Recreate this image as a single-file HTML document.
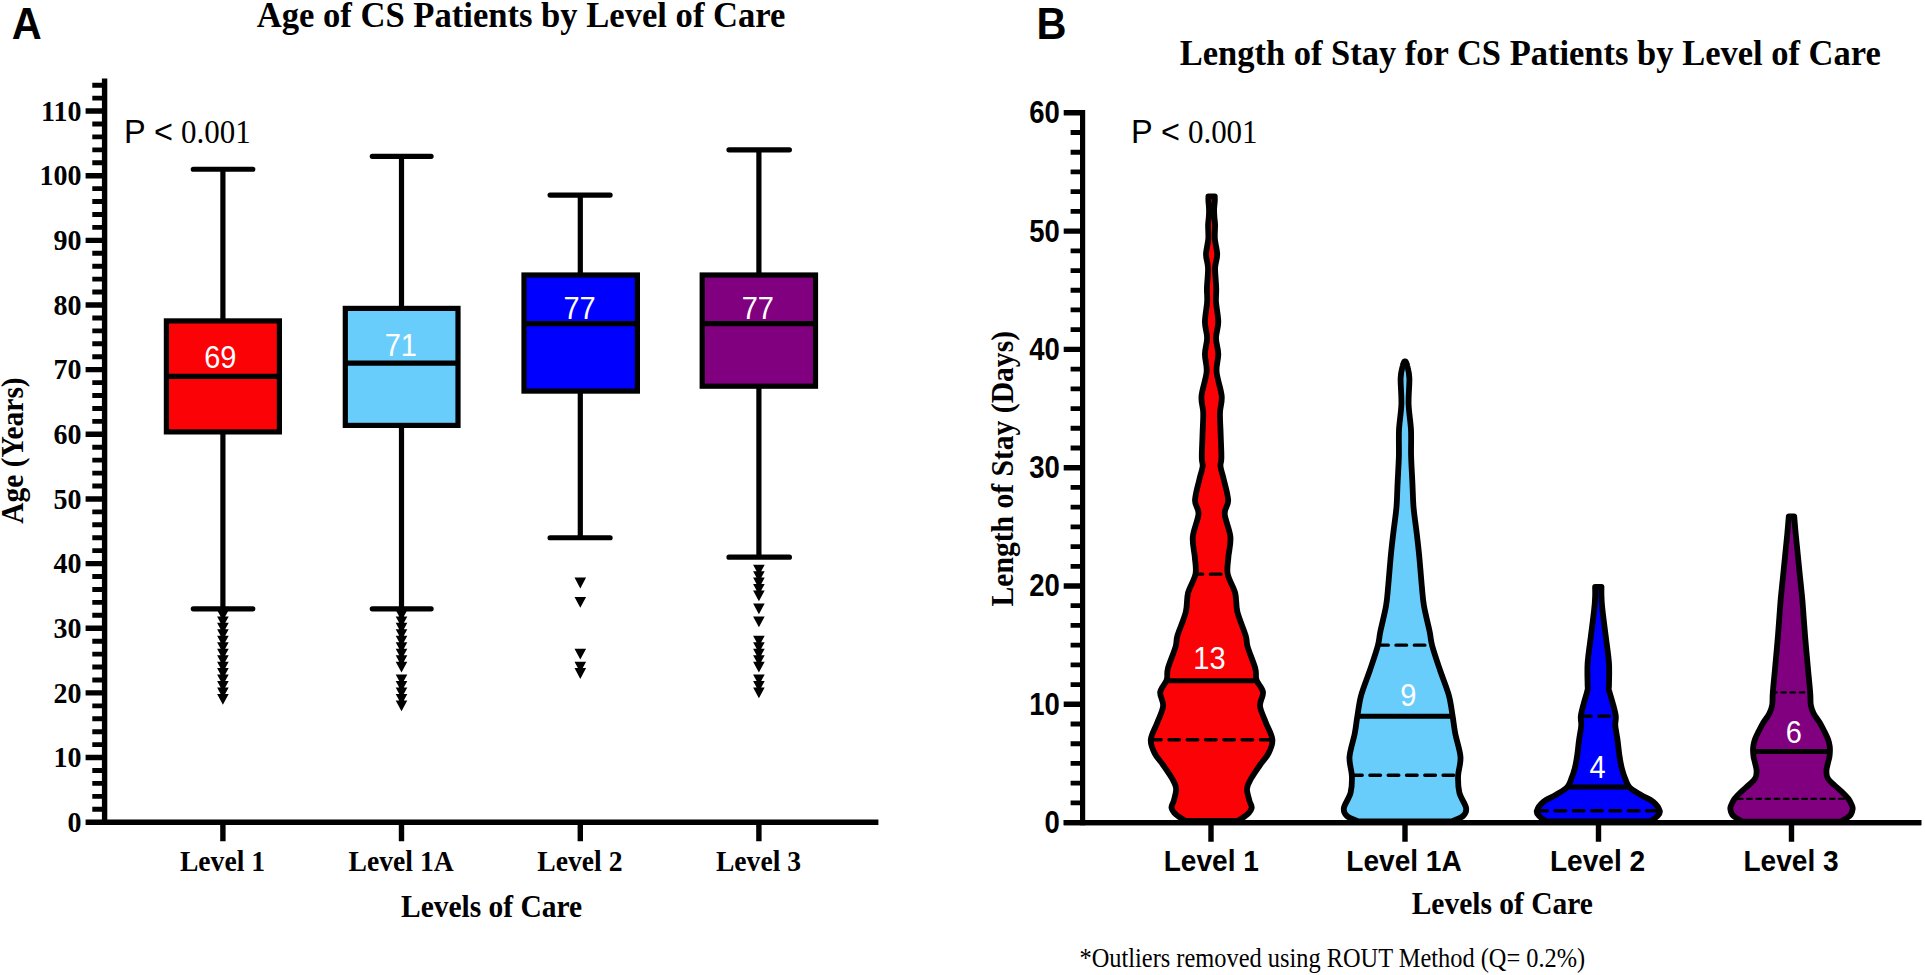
<!DOCTYPE html>
<html lang="en"><head><meta charset="utf-8"><title>Figure</title>
<style>html,body{margin:0;padding:0;background:#fff}svg{display:block}</style></head>
<body>
<svg width="1925" height="975" viewBox="0 0 1925 975">
<rect width="1925" height="975" fill="#fff"/>
<g id="panelA" stroke="#000" fill="none">
<path d="M104.6 78.4 V824.9000000000001" stroke-width="5.4"/>
<path d="M85.6 822.2 H878.4" stroke-width="5.4"/>
<path d="M85.6 757.55 H104.6 M85.6 692.90 H104.6 M85.6 628.25 H104.6 M85.6 563.60 H104.6 M85.6 498.95 H104.6 M85.6 434.30 H104.6 M85.6 369.65 H104.6 M85.6 305.00 H104.6 M85.6 240.35 H104.6 M85.6 175.70 H104.6 M85.6 111.05 H104.6 " stroke-width="5.4"/>
<path d="M92.3 809.27 H104.6 M92.3 796.34 H104.6 M92.3 783.41 H104.6 M92.3 770.48 H104.6 M92.3 744.62 H104.6 M92.3 731.69 H104.6 M92.3 718.76 H104.6 M92.3 705.83 H104.6 M92.3 679.97 H104.6 M92.3 667.04 H104.6 M92.3 654.11 H104.6 M92.3 641.18 H104.6 M92.3 615.32 H104.6 M92.3 602.39 H104.6 M92.3 589.46 H104.6 M92.3 576.53 H104.6 M92.3 550.67 H104.6 M92.3 537.74 H104.6 M92.3 524.81 H104.6 M92.3 511.88 H104.6 M92.3 486.02 H104.6 M92.3 473.09 H104.6 M92.3 460.16 H104.6 M92.3 447.23 H104.6 M92.3 421.37 H104.6 M92.3 408.44 H104.6 M92.3 395.51 H104.6 M92.3 382.58 H104.6 M92.3 356.72 H104.6 M92.3 343.79 H104.6 M92.3 330.86 H104.6 M92.3 317.93 H104.6 M92.3 292.07 H104.6 M92.3 279.14 H104.6 M92.3 266.21 H104.6 M92.3 253.28 H104.6 M92.3 227.42 H104.6 M92.3 214.49 H104.6 M92.3 201.56 H104.6 M92.3 188.63 H104.6 M92.3 162.77 H104.6 M92.3 149.84 H104.6 M92.3 136.91 H104.6 M92.3 123.98 H104.6 M92.3 98.12 H104.6 M92.3 85.19 H104.6 " stroke-width="4.9"/>
<path d="M222.9 822.2 V841.2 M401.5 822.2 V841.2 M580.3 822.2 V841.2 M758.9 822.2 V841.2 " stroke-width="5.4"/>
</g>
<g stroke="#000" stroke-width="5.2" fill="none">
<path d="M222.9 169.24 V608.86"/>
<path d="M193.3 169.24 H252.8 M193.3 608.86 H252.8" stroke-linecap="round"/>
<rect x="166.40" y="320.90" width="113.00" height="111.00" fill="#fb0207"/>
<path d="M166.40 376.30 H279.40"/>
</g>
<g stroke="#000" stroke-width="5.2" fill="none">
<path d="M401.5 156.31 V608.86"/>
<path d="M372.3 156.31 H431.1 M372.3 608.86 H431.1" stroke-linecap="round"/>
<rect x="345.30" y="308.40" width="112.70" height="117.00" fill="#69cdfc"/>
<path d="M345.30 363.20 H458.00"/>
</g>
<g stroke="#000" stroke-width="5.2" fill="none">
<path d="M580.3 195.10 V537.74"/>
<path d="M550.1 195.10 H610.1 M550.1 537.74 H610.1" stroke-linecap="round"/>
<rect x="524.00" y="275.00" width="113.40" height="116.10" fill="#0000fe"/>
<path d="M524.00 323.60 H637.40"/>
</g>
<g stroke="#000" stroke-width="5.2" fill="none">
<path d="M758.9 149.84 V557.13"/>
<path d="M729.0 149.84 H789.4 M729.0 557.13 H789.4" stroke-linecap="round"/>
<rect x="702.20" y="275.00" width="113.30" height="111.20" fill="#800080"/>
<path d="M702.20 323.60 H815.50"/>
</g>
<path d="M217.10 693.97H228.70L222.90 704.76ZM217.10 687.50H228.70L222.90 698.30ZM217.10 681.04H228.70L222.90 691.84ZM217.10 674.57H228.70L222.90 685.37ZM217.10 668.11H228.70L222.90 678.91ZM217.10 661.64H228.70L222.90 672.44ZM217.10 655.18H228.70L222.90 665.98ZM217.10 648.71H228.70L222.90 659.51ZM217.10 642.25H228.70L222.90 653.04ZM217.10 635.78H228.70L222.90 646.58ZM217.10 629.32H228.70L222.90 640.12ZM217.10 622.85H228.70L222.90 633.65ZM217.10 616.39H228.70L222.90 627.19ZM217.10 609.92H228.70L222.90 620.72ZM395.70 661.64H407.30L401.50 672.44ZM395.70 655.18H407.30L401.50 665.98ZM395.70 648.71H407.30L401.50 659.51ZM395.70 642.25H407.30L401.50 653.04ZM395.70 635.78H407.30L401.50 646.58ZM395.70 629.32H407.30L401.50 640.12ZM395.70 622.85H407.30L401.50 633.65ZM395.70 616.39H407.30L401.50 627.19ZM395.70 609.92H407.30L401.50 620.72ZM395.70 700.43H407.30L401.50 711.23ZM395.70 693.97H407.30L401.50 704.76ZM395.70 687.50H407.30L401.50 698.30ZM395.70 681.04H407.30L401.50 691.84ZM395.70 674.57H407.30L401.50 685.37ZM574.50 577.60H586.10L580.30 588.40ZM574.50 596.99H586.10L580.30 607.79ZM574.50 648.71H586.10L580.30 659.51ZM574.50 661.64H586.10L580.30 672.44ZM574.50 668.11H586.10L580.30 678.91ZM753.10 564.67H764.70L758.90 575.47ZM753.10 571.13H764.70L758.90 581.93ZM753.10 577.60H764.70L758.90 588.40ZM753.10 584.06H764.70L758.90 594.86ZM753.10 590.53H764.70L758.90 601.33ZM753.10 603.46H764.70L758.90 614.25ZM753.10 616.39H764.70L758.90 627.19ZM753.10 635.78H764.70L758.90 646.58ZM753.10 642.25H764.70L758.90 653.04ZM753.10 648.71H764.70L758.90 659.51ZM753.10 655.18H764.70L758.90 665.98ZM753.10 661.64H764.70L758.90 672.44ZM753.10 674.57H764.70L758.90 685.37ZM753.10 681.04H764.70L758.90 691.84ZM753.10 687.50H764.70L758.90 698.30Z" fill="#000"/>
<text transform="translate(11.8 38.7) scale(1 1.068)" font-family='"Liberation Sans", Arial, Helvetica, sans-serif' font-size="41.5" font-weight="bold">A</text>
<text transform="translate(521.1 26.9) scale(1 1.06)" font-family='"Liberation Serif", "Times New Roman", Times, serif' font-size="34.6" font-weight="bold" text-anchor="middle" fill="#000" >Age of CS Patients by Level of Care</text>
<text transform="translate(81.4 831.8000000000001) scale(1 1.06)" font-family='"Liberation Serif", "Times New Roman", Times, serif' font-size="28" font-weight="bold" text-anchor="end" fill="#000" >0</text>
<text transform="translate(81.4 767.1500000000001) scale(1 1.06)" font-family='"Liberation Serif", "Times New Roman", Times, serif' font-size="28" font-weight="bold" text-anchor="end" fill="#000" >10</text>
<text transform="translate(81.4 702.5000000000001) scale(1 1.06)" font-family='"Liberation Serif", "Times New Roman", Times, serif' font-size="28" font-weight="bold" text-anchor="end" fill="#000" >20</text>
<text transform="translate(81.4 637.85) scale(1 1.06)" font-family='"Liberation Serif", "Times New Roman", Times, serif' font-size="28" font-weight="bold" text-anchor="end" fill="#000" >30</text>
<text transform="translate(81.4 573.2) scale(1 1.06)" font-family='"Liberation Serif", "Times New Roman", Times, serif' font-size="28" font-weight="bold" text-anchor="end" fill="#000" >40</text>
<text transform="translate(81.4 508.55000000000007) scale(1 1.06)" font-family='"Liberation Serif", "Times New Roman", Times, serif' font-size="28" font-weight="bold" text-anchor="end" fill="#000" >50</text>
<text transform="translate(81.4 443.9000000000001) scale(1 1.06)" font-family='"Liberation Serif", "Times New Roman", Times, serif' font-size="28" font-weight="bold" text-anchor="end" fill="#000" >60</text>
<text transform="translate(81.4 379.25000000000006) scale(1 1.06)" font-family='"Liberation Serif", "Times New Roman", Times, serif' font-size="28" font-weight="bold" text-anchor="end" fill="#000" >70</text>
<text transform="translate(81.4 314.6) scale(1 1.06)" font-family='"Liberation Serif", "Times New Roman", Times, serif' font-size="28" font-weight="bold" text-anchor="end" fill="#000" >80</text>
<text transform="translate(81.4 249.95000000000002) scale(1 1.06)" font-family='"Liberation Serif", "Times New Roman", Times, serif' font-size="28" font-weight="bold" text-anchor="end" fill="#000" >90</text>
<text transform="translate(81.4 185.30000000000004) scale(1 1.06)" font-family='"Liberation Serif", "Times New Roman", Times, serif' font-size="28" font-weight="bold" text-anchor="end" fill="#000" >100</text>
<text transform="translate(81.4 120.65000000000006) scale(1 1.06)" font-family='"Liberation Serif", "Times New Roman", Times, serif' font-size="28" font-weight="bold" text-anchor="end" fill="#000" >110</text>
<text transform="translate(222.5 870.7) scale(1 1.06)" font-family='"Liberation Serif", "Times New Roman", Times, serif' font-size="27.6" font-weight="bold" text-anchor="middle" fill="#000" >Level 1</text>
<text transform="translate(401.1 870.7) scale(1 1.06)" font-family='"Liberation Serif", "Times New Roman", Times, serif' font-size="27.6" font-weight="bold" text-anchor="middle" fill="#000" >Level 1A</text>
<text transform="translate(579.9 870.7) scale(1 1.06)" font-family='"Liberation Serif", "Times New Roman", Times, serif' font-size="27.6" font-weight="bold" text-anchor="middle" fill="#000" >Level 2</text>
<text transform="translate(758.5 870.7) scale(1 1.06)" font-family='"Liberation Serif", "Times New Roman", Times, serif' font-size="27.6" font-weight="bold" text-anchor="middle" fill="#000" >Level 3</text>
<text transform="translate(491.6 916.5) scale(1 1.06)" font-family='"Liberation Serif", "Times New Roman", Times, serif' font-size="29.5" font-weight="bold" text-anchor="middle" fill="#000" >Levels of Care</text>
<text transform="translate(22.5 450.5) rotate(-90) scale(1 1.06)" font-family='"Liberation Serif", "Times New Roman", Times, serif' font-size="29.45" font-weight="bold" text-anchor="middle">Age (Years)</text>
<text transform="translate(124.0 143.4) scale(1 1.045)" font-family='"Liberation Sans", Arial, Helvetica, sans-serif' font-size="32.5">P &lt;</text>
<text transform="translate(181.0 143.4) scale(0.914 1.005)" font-family='"Liberation Serif", "Times New Roman", Times, serif' font-size="33.9">0.001</text>
<text transform="translate(220.3 367.5) scale(1 1.07)" font-family='"Liberation Sans", Arial, Helvetica, sans-serif' font-size="29" text-anchor="middle" fill="#fff">69</text>
<text transform="translate(400.8 356) scale(1 1.07)" font-family='"Liberation Sans", Arial, Helvetica, sans-serif' font-size="29" text-anchor="middle" fill="#fff">71</text>
<text transform="translate(579.6 319.4) scale(1 1.07)" font-family='"Liberation Sans", Arial, Helvetica, sans-serif' font-size="29" text-anchor="middle" fill="#fff">77</text>
<text transform="translate(757.8 319.4) scale(1 1.07)" font-family='"Liberation Sans", Arial, Helvetica, sans-serif' font-size="29" text-anchor="middle" fill="#fff">77</text>
<g id="panelB" stroke="#000" fill="none">
<path d="M1082.6 110.10 V825.3000000000001" stroke-width="5.2"/>
<path d="M1063.7 822.6 H1921.3" stroke-width="5.4"/>
<path d="M1063.7 704.30 H1082.6 M1063.7 586.00 H1082.6 M1063.7 467.70 H1082.6 M1063.7 349.40 H1082.6 M1063.7 231.10 H1082.6 M1063.7 112.80 H1082.6 " stroke-width="5.4"/>
<path d="M1070.6 802.88 H1082.6 M1070.6 783.17 H1082.6 M1070.6 763.45 H1082.6 M1070.6 743.73 H1082.6 M1070.6 724.02 H1082.6 M1070.6 684.58 H1082.6 M1070.6 664.87 H1082.6 M1070.6 645.15 H1082.6 M1070.6 625.43 H1082.6 M1070.6 605.72 H1082.6 M1070.6 566.28 H1082.6 M1070.6 546.57 H1082.6 M1070.6 526.85 H1082.6 M1070.6 507.13 H1082.6 M1070.6 487.42 H1082.6 M1070.6 447.98 H1082.6 M1070.6 428.27 H1082.6 M1070.6 408.55 H1082.6 M1070.6 388.83 H1082.6 M1070.6 369.12 H1082.6 M1070.6 329.68 H1082.6 M1070.6 309.97 H1082.6 M1070.6 290.25 H1082.6 M1070.6 270.53 H1082.6 M1070.6 250.82 H1082.6 M1070.6 211.38 H1082.6 M1070.6 191.67 H1082.6 M1070.6 171.95 H1082.6 M1070.6 152.23 H1082.6 M1070.6 132.52 H1082.6 " stroke-width="4.8"/>
<path d="M1211.0 822.6 V841.8 M1405.0 822.6 V841.8 M1598.5 822.6 V841.8 M1791.5 822.6 V841.8 " stroke-width="5.4"/>
</g>
<clipPath id="vc1"><path d="M1214.8 196.4C1214.8 197.2 1214.9 198.9 1214.8 201.0C1214.7 203.1 1214.2 206.3 1214.1 209.0C1214.1 211.7 1214.2 214.3 1214.4 217.0C1214.6 219.7 1215.0 221.3 1215.1 225.0C1215.2 228.7 1214.5 234.1 1214.9 239.0C1215.2 243.9 1217.2 249.7 1217.2 254.5C1217.2 259.3 1215.3 262.4 1215.1 268.0C1215.0 273.6 1216.1 282.3 1216.2 288.0C1216.4 293.7 1215.7 296.3 1216.0 302.0C1216.4 307.7 1218.3 316.0 1218.3 322.0C1218.3 328.0 1216.0 332.7 1216.0 338.0C1216.0 343.3 1218.2 348.3 1218.3 354.0C1218.4 359.7 1216.0 365.0 1216.6 372.0C1217.2 379.0 1221.1 389.2 1221.7 396.0C1222.3 402.8 1220.2 406.1 1220.0 412.6C1219.8 419.1 1220.5 427.5 1220.7 435.0C1220.9 442.5 1221.5 452.4 1221.4 457.7C1221.4 463.0 1220.1 463.0 1220.5 466.7C1221.0 470.4 1222.7 474.4 1223.9 480.0C1225.2 485.6 1228.1 494.9 1228.2 500.6C1228.3 506.3 1224.3 508.0 1224.7 514.0C1225.1 520.0 1229.8 529.5 1230.4 536.7C1231.1 543.9 1228.9 550.8 1228.4 557.0C1228.0 563.2 1226.6 568.0 1227.7 574.0C1228.8 580.0 1233.6 586.7 1235.2 593.0C1236.8 599.3 1235.7 604.9 1237.4 612.0C1239.2 619.1 1243.9 629.6 1245.6 635.4C1247.4 641.2 1246.1 641.5 1247.7 647.0C1249.3 652.5 1253.8 662.9 1255.3 668.4C1256.8 673.9 1255.2 676.1 1256.5 680.0C1257.8 683.9 1262.4 687.7 1263.0 692.0C1263.6 696.3 1259.6 700.9 1260.0 706.0C1260.5 711.1 1263.9 717.1 1265.9 722.7C1268.0 728.3 1272.0 734.6 1272.4 739.7C1272.8 744.8 1270.6 749.2 1268.5 753.4C1266.4 757.6 1263.0 760.7 1260.0 765.0C1257.1 769.3 1252.8 775.4 1250.6 779.4C1248.4 783.4 1247.2 785.3 1247.0 788.8C1246.8 792.3 1248.6 797.5 1249.4 800.6C1250.2 803.8 1252.1 805.4 1251.7 807.7C1251.3 810.1 1249.4 812.5 1247.0 814.7C1244.7 816.9 1239.2 820.0 1237.6 821.0L1185.6 821.0C1184.0 820.0 1178.5 816.9 1176.1 814.7C1173.8 812.5 1171.9 810.1 1171.5 807.7C1171.1 805.4 1173.0 803.8 1173.8 800.6C1174.6 797.5 1176.3 792.3 1176.1 788.8C1175.9 785.3 1174.8 783.4 1172.6 779.4C1170.4 775.4 1166.1 769.3 1163.1 765.0C1160.2 760.7 1156.8 757.6 1154.7 753.4C1152.6 749.2 1150.4 744.8 1150.8 739.7C1151.2 734.6 1155.2 728.3 1157.2 722.7C1159.3 717.1 1162.7 711.1 1163.1 706.0C1163.6 700.9 1159.6 696.3 1160.2 692.0C1160.8 687.7 1165.4 683.9 1166.7 680.0C1168.0 676.1 1166.4 673.9 1167.9 668.4C1169.4 662.9 1173.9 652.5 1175.5 647.0C1177.1 641.5 1175.8 641.2 1177.5 635.4C1179.3 629.6 1184.0 619.1 1185.8 612.0C1187.5 604.9 1186.4 599.3 1188.0 593.0C1189.6 586.7 1194.4 580.0 1195.5 574.0C1196.6 568.0 1195.2 563.2 1194.8 557.0C1194.3 550.8 1192.1 543.9 1192.8 536.7C1193.4 529.5 1198.1 520.0 1198.5 514.0C1198.9 508.0 1194.9 506.3 1195.0 500.6C1195.1 494.9 1198.0 485.6 1199.2 480.0C1200.5 474.4 1202.2 470.4 1202.6 466.7C1203.1 463.0 1201.8 463.0 1201.8 457.7C1201.7 452.4 1202.3 442.5 1202.5 435.0C1202.7 427.5 1203.4 419.1 1203.2 412.6C1203.0 406.1 1200.9 402.8 1201.5 396.0C1202.1 389.2 1206.0 379.0 1206.6 372.0C1207.2 365.0 1204.8 359.7 1204.9 354.0C1205.0 348.3 1207.1 343.3 1207.1 338.0C1207.1 332.7 1204.9 328.0 1204.9 322.0C1204.9 316.0 1206.8 307.7 1207.1 302.0C1207.5 296.3 1206.8 293.7 1206.9 288.0C1207.1 282.3 1208.2 273.6 1208.0 268.0C1207.9 262.4 1206.0 259.3 1206.0 254.5C1206.0 249.7 1208.0 243.9 1208.3 239.0C1208.6 234.1 1208.0 228.7 1208.1 225.0C1208.2 221.3 1208.6 219.7 1208.8 217.0C1209.0 214.3 1209.1 211.7 1209.0 209.0C1209.0 206.3 1208.5 203.1 1208.4 201.0C1208.3 198.9 1208.4 197.2 1208.4 196.4Z"/></clipPath>
<path d="M1214.8 196.4C1214.8 197.2 1214.9 198.9 1214.8 201.0C1214.7 203.1 1214.2 206.3 1214.1 209.0C1214.1 211.7 1214.2 214.3 1214.4 217.0C1214.6 219.7 1215.0 221.3 1215.1 225.0C1215.2 228.7 1214.5 234.1 1214.9 239.0C1215.2 243.9 1217.2 249.7 1217.2 254.5C1217.2 259.3 1215.3 262.4 1215.1 268.0C1215.0 273.6 1216.1 282.3 1216.2 288.0C1216.4 293.7 1215.7 296.3 1216.0 302.0C1216.4 307.7 1218.3 316.0 1218.3 322.0C1218.3 328.0 1216.0 332.7 1216.0 338.0C1216.0 343.3 1218.2 348.3 1218.3 354.0C1218.4 359.7 1216.0 365.0 1216.6 372.0C1217.2 379.0 1221.1 389.2 1221.7 396.0C1222.3 402.8 1220.2 406.1 1220.0 412.6C1219.8 419.1 1220.5 427.5 1220.7 435.0C1220.9 442.5 1221.5 452.4 1221.4 457.7C1221.4 463.0 1220.1 463.0 1220.5 466.7C1221.0 470.4 1222.7 474.4 1223.9 480.0C1225.2 485.6 1228.1 494.9 1228.2 500.6C1228.3 506.3 1224.3 508.0 1224.7 514.0C1225.1 520.0 1229.8 529.5 1230.4 536.7C1231.1 543.9 1228.9 550.8 1228.4 557.0C1228.0 563.2 1226.6 568.0 1227.7 574.0C1228.8 580.0 1233.6 586.7 1235.2 593.0C1236.8 599.3 1235.7 604.9 1237.4 612.0C1239.2 619.1 1243.9 629.6 1245.6 635.4C1247.4 641.2 1246.1 641.5 1247.7 647.0C1249.3 652.5 1253.8 662.9 1255.3 668.4C1256.8 673.9 1255.2 676.1 1256.5 680.0C1257.8 683.9 1262.4 687.7 1263.0 692.0C1263.6 696.3 1259.6 700.9 1260.0 706.0C1260.5 711.1 1263.9 717.1 1265.9 722.7C1268.0 728.3 1272.0 734.6 1272.4 739.7C1272.8 744.8 1270.6 749.2 1268.5 753.4C1266.4 757.6 1263.0 760.7 1260.0 765.0C1257.1 769.3 1252.8 775.4 1250.6 779.4C1248.4 783.4 1247.2 785.3 1247.0 788.8C1246.8 792.3 1248.6 797.5 1249.4 800.6C1250.2 803.8 1252.1 805.4 1251.7 807.7C1251.3 810.1 1249.4 812.5 1247.0 814.7C1244.7 816.9 1239.2 820.0 1237.6 821.0L1185.6 821.0C1184.0 820.0 1178.5 816.9 1176.1 814.7C1173.8 812.5 1171.9 810.1 1171.5 807.7C1171.1 805.4 1173.0 803.8 1173.8 800.6C1174.6 797.5 1176.3 792.3 1176.1 788.8C1175.9 785.3 1174.8 783.4 1172.6 779.4C1170.4 775.4 1166.1 769.3 1163.1 765.0C1160.2 760.7 1156.8 757.6 1154.7 753.4C1152.6 749.2 1150.4 744.8 1150.8 739.7C1151.2 734.6 1155.2 728.3 1157.2 722.7C1159.3 717.1 1162.7 711.1 1163.1 706.0C1163.6 700.9 1159.6 696.3 1160.2 692.0C1160.8 687.7 1165.4 683.9 1166.7 680.0C1168.0 676.1 1166.4 673.9 1167.9 668.4C1169.4 662.9 1173.9 652.5 1175.5 647.0C1177.1 641.5 1175.8 641.2 1177.5 635.4C1179.3 629.6 1184.0 619.1 1185.8 612.0C1187.5 604.9 1186.4 599.3 1188.0 593.0C1189.6 586.7 1194.4 580.0 1195.5 574.0C1196.6 568.0 1195.2 563.2 1194.8 557.0C1194.3 550.8 1192.1 543.9 1192.8 536.7C1193.4 529.5 1198.1 520.0 1198.5 514.0C1198.9 508.0 1194.9 506.3 1195.0 500.6C1195.1 494.9 1198.0 485.6 1199.2 480.0C1200.5 474.4 1202.2 470.4 1202.6 466.7C1203.1 463.0 1201.8 463.0 1201.8 457.7C1201.7 452.4 1202.3 442.5 1202.5 435.0C1202.7 427.5 1203.4 419.1 1203.2 412.6C1203.0 406.1 1200.9 402.8 1201.5 396.0C1202.1 389.2 1206.0 379.0 1206.6 372.0C1207.2 365.0 1204.8 359.7 1204.9 354.0C1205.0 348.3 1207.1 343.3 1207.1 338.0C1207.1 332.7 1204.9 328.0 1204.9 322.0C1204.9 316.0 1206.8 307.7 1207.1 302.0C1207.5 296.3 1206.8 293.7 1206.9 288.0C1207.1 282.3 1208.2 273.6 1208.0 268.0C1207.9 262.4 1206.0 259.3 1206.0 254.5C1206.0 249.7 1208.0 243.9 1208.3 239.0C1208.6 234.1 1208.0 228.7 1208.1 225.0C1208.2 221.3 1208.6 219.7 1208.8 217.0C1209.0 214.3 1209.1 211.7 1209.0 209.0C1209.0 206.3 1208.5 203.1 1208.4 201.0C1208.3 198.9 1208.4 197.2 1208.4 196.4Z" fill="#fb0207" stroke="#000" stroke-width="5.8" stroke-linejoin="round"/>
<path d="M1192.1 574.17 H1230.7" stroke="#000" stroke-width="3.4" stroke-linecap="round" stroke-dasharray="10.6 7.7" clip-path="url(#vc1)"/>
<path d="M1165.5 680.64 H1257.7" stroke="#000" stroke-width="5" clip-path="url(#vc1)"/>
<path d="M1150.6 739.79 H1275.3" stroke="#000" stroke-width="3.4" stroke-linecap="round" stroke-dasharray="10.6 7.7" clip-path="url(#vc1)"/>
<clipPath id="vc2"><path d="M1405.6 361.4C1405.9 362.1 1406.6 362.8 1407.2 365.6C1407.9 368.5 1409.2 372.1 1409.4 378.5C1409.6 384.9 1408.3 395.5 1408.6 404.0C1408.9 412.5 1410.5 421.1 1411.0 429.7C1411.4 438.3 1410.9 446.8 1411.1 455.4C1411.3 463.9 1411.9 472.4 1412.3 481.0C1412.8 489.6 1412.8 498.1 1413.5 506.7C1414.2 515.2 1415.6 523.8 1416.6 532.3C1417.6 540.8 1418.6 549.2 1419.4 558.0C1420.2 566.8 1421.0 577.1 1421.7 585.0C1422.5 592.9 1422.6 597.9 1423.9 605.6C1425.2 613.3 1428.2 624.7 1429.6 631.3C1431.0 637.9 1430.4 639.0 1432.1 645.4C1433.8 651.8 1437.1 661.4 1439.9 669.7C1442.7 678.0 1446.8 687.7 1448.9 695.4C1451.0 703.1 1451.5 709.6 1452.6 716.0C1453.7 722.4 1454.0 727.0 1455.3 733.8C1456.6 740.6 1460.0 750.0 1460.5 757.0C1460.9 764.0 1458.3 770.0 1458.1 776.0C1457.9 782.0 1458.1 787.5 1459.4 792.8C1460.7 798.1 1465.5 804.1 1466.1 808.0C1466.7 811.9 1465.5 813.8 1463.1 816.0C1460.7 818.2 1453.5 820.6 1451.6 821.5L1358.4 821.5C1356.5 820.6 1349.3 818.2 1346.9 816.0C1344.5 813.8 1343.3 811.9 1343.9 808.0C1344.5 804.1 1349.3 798.1 1350.6 792.8C1351.9 787.5 1352.1 782.0 1351.9 776.0C1351.7 770.0 1349.1 764.0 1349.5 757.0C1350.0 750.0 1353.4 740.6 1354.7 733.8C1356.0 727.0 1356.3 722.4 1357.4 716.0C1358.5 709.6 1359.0 703.1 1361.1 695.4C1363.2 687.7 1367.3 678.0 1370.1 669.7C1372.9 661.4 1376.2 651.8 1377.9 645.4C1379.6 639.0 1379.0 637.9 1380.4 631.3C1381.8 624.7 1384.8 613.3 1386.1 605.6C1387.4 597.9 1387.5 592.9 1388.3 585.0C1389.0 577.1 1389.8 566.8 1390.6 558.0C1391.4 549.2 1392.4 540.8 1393.4 532.3C1394.4 523.8 1395.8 515.2 1396.5 506.7C1397.2 498.1 1397.2 489.6 1397.7 481.0C1398.1 472.4 1398.7 463.9 1398.9 455.4C1399.1 446.8 1398.6 438.3 1399.0 429.7C1399.5 421.1 1401.1 412.5 1401.4 404.0C1401.7 395.5 1400.4 384.9 1400.6 378.5C1400.8 372.1 1402.1 368.5 1402.8 365.6C1403.4 362.8 1404.1 362.1 1404.4 361.4Z"/></clipPath>
<path d="M1405.6 361.4C1405.9 362.1 1406.6 362.8 1407.2 365.6C1407.9 368.5 1409.2 372.1 1409.4 378.5C1409.6 384.9 1408.3 395.5 1408.6 404.0C1408.9 412.5 1410.5 421.1 1411.0 429.7C1411.4 438.3 1410.9 446.8 1411.1 455.4C1411.3 463.9 1411.9 472.4 1412.3 481.0C1412.8 489.6 1412.8 498.1 1413.5 506.7C1414.2 515.2 1415.6 523.8 1416.6 532.3C1417.6 540.8 1418.6 549.2 1419.4 558.0C1420.2 566.8 1421.0 577.1 1421.7 585.0C1422.5 592.9 1422.6 597.9 1423.9 605.6C1425.2 613.3 1428.2 624.7 1429.6 631.3C1431.0 637.9 1430.4 639.0 1432.1 645.4C1433.8 651.8 1437.1 661.4 1439.9 669.7C1442.7 678.0 1446.8 687.7 1448.9 695.4C1451.0 703.1 1451.5 709.6 1452.6 716.0C1453.7 722.4 1454.0 727.0 1455.3 733.8C1456.6 740.6 1460.0 750.0 1460.5 757.0C1460.9 764.0 1458.3 770.0 1458.1 776.0C1457.9 782.0 1458.1 787.5 1459.4 792.8C1460.7 798.1 1465.5 804.1 1466.1 808.0C1466.7 811.9 1465.5 813.8 1463.1 816.0C1460.7 818.2 1453.5 820.6 1451.6 821.5L1358.4 821.5C1356.5 820.6 1349.3 818.2 1346.9 816.0C1344.5 813.8 1343.3 811.9 1343.9 808.0C1344.5 804.1 1349.3 798.1 1350.6 792.8C1351.9 787.5 1352.1 782.0 1351.9 776.0C1351.7 770.0 1349.1 764.0 1349.5 757.0C1350.0 750.0 1353.4 740.6 1354.7 733.8C1356.0 727.0 1356.3 722.4 1357.4 716.0C1358.5 709.6 1359.0 703.1 1361.1 695.4C1363.2 687.7 1367.3 678.0 1370.1 669.7C1372.9 661.4 1376.2 651.8 1377.9 645.4C1379.6 639.0 1379.0 637.9 1380.4 631.3C1381.8 624.7 1384.8 613.3 1386.1 605.6C1387.4 597.9 1387.5 592.9 1388.3 585.0C1389.0 577.1 1389.8 566.8 1390.6 558.0C1391.4 549.2 1392.4 540.8 1393.4 532.3C1394.4 523.8 1395.8 515.2 1396.5 506.7C1397.2 498.1 1397.2 489.6 1397.7 481.0C1398.1 472.4 1398.7 463.9 1398.9 455.4C1399.1 446.8 1398.6 438.3 1399.0 429.7C1399.5 421.1 1401.1 412.5 1401.4 404.0C1401.7 395.5 1400.4 384.9 1400.6 378.5C1400.8 372.1 1402.1 368.5 1402.8 365.6C1403.4 362.8 1404.1 362.1 1404.4 361.4Z" fill="#69cdfc" stroke="#000" stroke-width="5.8" stroke-linejoin="round"/>
<path d="M1377.7 645.15 H1435.0" stroke="#000" stroke-width="3.4" stroke-linecap="round" stroke-dasharray="10.6 7.7" clip-path="url(#vc2)"/>
<path d="M1356.5 716.13 H1453.5" stroke="#000" stroke-width="5" clip-path="url(#vc2)"/>
<path d="M1351.6 775.28 H1461.1" stroke="#000" stroke-width="3.4" stroke-linecap="round" stroke-dasharray="10.6 7.7" clip-path="url(#vc2)"/>
<clipPath id="vc3"><path d="M1601.5 586.8C1601.5 588.4 1601.3 592.8 1601.5 596.7C1601.6 600.6 1601.7 603.3 1602.5 610.0C1603.2 616.7 1604.7 627.8 1605.8 636.7C1606.9 645.6 1608.5 655.3 1609.0 663.3C1609.5 671.3 1609.0 680.2 1609.0 684.7C1609.0 689.2 1608.4 686.7 1609.0 690.0C1609.7 693.3 1612.0 700.0 1613.1 704.4C1614.3 708.8 1615.4 712.7 1615.8 716.3C1616.2 719.9 1615.0 721.9 1615.3 725.9C1615.7 729.9 1617.0 735.5 1617.6 740.3C1618.3 745.1 1618.6 749.8 1619.3 754.6C1620.0 759.4 1620.9 764.9 1622.0 769.0C1623.0 773.1 1624.1 776.0 1625.3 779.0C1626.6 782.0 1627.0 784.6 1629.5 787.2C1632.0 789.8 1636.7 792.3 1640.6 794.8C1644.6 797.3 1650.2 799.3 1653.4 802.0C1656.6 804.7 1659.1 808.6 1659.8 811.0C1660.4 813.4 1658.7 814.6 1657.1 816.4C1655.6 818.1 1651.5 820.6 1650.4 821.5L1546.2 821.5C1545.1 820.6 1541.0 818.1 1539.5 816.4C1537.9 814.6 1536.2 813.4 1536.8 811.0C1537.5 808.6 1540.0 804.7 1543.2 802.0C1546.4 799.3 1552.0 797.3 1556.0 794.8C1559.9 792.3 1564.5 789.8 1567.1 787.2C1569.6 784.6 1570.0 782.0 1571.2 779.0C1572.5 776.0 1573.6 773.1 1574.6 769.0C1575.7 764.9 1576.6 759.4 1577.3 754.6C1578.0 749.8 1578.3 745.1 1579.0 740.3C1579.6 735.5 1580.9 729.9 1581.2 725.9C1581.6 721.9 1580.4 719.9 1580.8 716.3C1581.2 712.7 1582.3 708.8 1583.5 704.4C1584.6 700.0 1586.9 693.3 1587.5 690.0C1588.2 686.7 1587.6 689.2 1587.6 684.7C1587.6 680.2 1587.1 671.3 1587.6 663.3C1588.1 655.3 1589.7 645.6 1590.8 636.7C1591.9 627.8 1593.4 616.7 1594.1 610.0C1594.9 603.3 1595.0 600.6 1595.1 596.7C1595.3 592.8 1595.1 588.4 1595.1 586.8Z"/></clipPath>
<path d="M1601.5 586.8C1601.5 588.4 1601.3 592.8 1601.5 596.7C1601.6 600.6 1601.7 603.3 1602.5 610.0C1603.2 616.7 1604.7 627.8 1605.8 636.7C1606.9 645.6 1608.5 655.3 1609.0 663.3C1609.5 671.3 1609.0 680.2 1609.0 684.7C1609.0 689.2 1608.4 686.7 1609.0 690.0C1609.7 693.3 1612.0 700.0 1613.1 704.4C1614.3 708.8 1615.4 712.7 1615.8 716.3C1616.2 719.9 1615.0 721.9 1615.3 725.9C1615.7 729.9 1617.0 735.5 1617.6 740.3C1618.3 745.1 1618.6 749.8 1619.3 754.6C1620.0 759.4 1620.9 764.9 1622.0 769.0C1623.0 773.1 1624.1 776.0 1625.3 779.0C1626.6 782.0 1627.0 784.6 1629.5 787.2C1632.0 789.8 1636.7 792.3 1640.6 794.8C1644.6 797.3 1650.2 799.3 1653.4 802.0C1656.6 804.7 1659.1 808.6 1659.8 811.0C1660.4 813.4 1658.7 814.6 1657.1 816.4C1655.6 818.1 1651.5 820.6 1650.4 821.5L1546.2 821.5C1545.1 820.6 1541.0 818.1 1539.5 816.4C1537.9 814.6 1536.2 813.4 1536.8 811.0C1537.5 808.6 1540.0 804.7 1543.2 802.0C1546.4 799.3 1552.0 797.3 1556.0 794.8C1559.9 792.3 1564.5 789.8 1567.1 787.2C1569.6 784.6 1570.0 782.0 1571.2 779.0C1572.5 776.0 1573.6 773.1 1574.6 769.0C1575.7 764.9 1576.6 759.4 1577.3 754.6C1578.0 749.8 1578.3 745.1 1579.0 740.3C1579.6 735.5 1580.9 729.9 1581.2 725.9C1581.6 721.9 1580.4 719.9 1580.8 716.3C1581.2 712.7 1582.3 708.8 1583.5 704.4C1584.6 700.0 1586.9 693.3 1587.5 690.0C1588.2 686.7 1587.6 689.2 1587.6 684.7C1587.6 680.2 1587.1 671.3 1587.6 663.3C1588.1 655.3 1589.7 645.6 1590.8 636.7C1591.9 627.8 1593.4 616.7 1594.1 610.0C1594.9 603.3 1595.0 600.6 1595.1 596.7C1595.3 592.8 1595.1 588.4 1595.1 586.8Z" fill="#0000fe" stroke="#000" stroke-width="5.8" stroke-linejoin="round"/>
<path d="M1580.6 716.13 H1618.7" stroke="#000" stroke-width="3.4" stroke-linecap="round" stroke-dasharray="10.6 7.7" clip-path="url(#vc3)"/>
<path d="M1566.2 787.11 H1630.4" stroke="#000" stroke-width="5" clip-path="url(#vc3)"/>
<path d="M1536.8 810.77 H1662.5" stroke="#000" stroke-width="3.4" stroke-linecap="round" stroke-dasharray="10.6 7.7" clip-path="url(#vc3)"/>
<clipPath id="vc4"><path d="M1794.2 516.4C1794.5 519.3 1794.9 525.2 1795.7 533.8C1796.5 542.3 1798.0 556.4 1799.1 567.7C1800.2 579.0 1801.5 590.2 1802.5 601.5C1803.4 612.8 1804.1 624.0 1805.0 635.3C1805.9 646.5 1807.2 659.4 1808.0 669.0C1808.9 678.6 1809.8 686.7 1810.2 692.7C1810.7 698.7 1810.2 701.4 1810.8 704.9C1811.3 708.4 1812.2 710.7 1813.7 713.6C1815.2 716.5 1817.7 719.4 1819.5 722.3C1821.2 725.2 1822.7 728.1 1824.2 731.0C1825.6 733.9 1827.2 737.1 1828.2 739.7C1829.1 742.3 1829.5 744.7 1829.8 746.7C1830.0 748.7 1830.0 749.9 1829.9 751.6C1829.8 753.3 1829.8 755.0 1829.4 757.1C1829.0 759.2 1828.2 761.8 1827.7 764.1C1827.2 766.4 1826.4 768.8 1826.4 771.1C1826.4 773.4 1826.3 775.8 1827.7 778.1C1829.0 780.4 1831.8 782.7 1834.2 785.0C1836.7 787.3 1839.7 789.7 1842.1 792.0C1844.5 794.3 1846.9 796.7 1848.6 799.0C1850.3 801.3 1851.5 804.3 1852.2 806.0C1852.9 807.7 1852.8 807.9 1852.6 809.4C1852.4 810.9 1851.8 813.2 1850.8 814.7C1849.8 816.2 1848.2 817.0 1846.5 818.2C1844.7 819.4 1841.4 821.1 1840.3 821.7L1742.7 821.7C1741.6 821.1 1738.3 819.4 1736.5 818.2C1734.8 817.0 1733.2 816.2 1732.2 814.7C1731.2 813.2 1730.6 810.9 1730.4 809.4C1730.2 807.9 1730.1 807.7 1730.8 806.0C1731.5 804.3 1732.7 801.3 1734.4 799.0C1736.1 796.7 1738.5 794.3 1740.9 792.0C1743.3 789.7 1746.3 787.3 1748.8 785.0C1751.2 782.7 1754.0 780.4 1755.3 778.1C1756.7 775.8 1756.6 773.4 1756.6 771.1C1756.6 768.8 1755.8 766.4 1755.3 764.1C1754.8 761.8 1754.0 759.2 1753.6 757.1C1753.2 755.0 1753.2 753.3 1753.1 751.6C1753.0 749.9 1753.0 748.7 1753.2 746.7C1753.5 744.7 1753.9 742.3 1754.8 739.7C1755.8 737.1 1757.4 733.9 1758.8 731.0C1760.3 728.1 1761.8 725.2 1763.5 722.3C1765.3 719.4 1767.8 716.5 1769.3 713.6C1770.8 710.7 1771.7 708.4 1772.2 704.9C1772.8 701.4 1772.3 698.7 1772.8 692.7C1773.2 686.7 1774.1 678.6 1775.0 669.0C1775.8 659.4 1777.1 646.5 1778.0 635.3C1778.9 624.0 1779.6 612.8 1780.5 601.5C1781.5 590.2 1782.8 579.0 1783.9 567.7C1785.0 556.4 1786.5 542.3 1787.3 533.8C1788.1 525.2 1788.5 519.3 1788.8 516.4Z"/></clipPath>
<path d="M1794.2 516.4C1794.5 519.3 1794.9 525.2 1795.7 533.8C1796.5 542.3 1798.0 556.4 1799.1 567.7C1800.2 579.0 1801.5 590.2 1802.5 601.5C1803.4 612.8 1804.1 624.0 1805.0 635.3C1805.9 646.5 1807.2 659.4 1808.0 669.0C1808.9 678.6 1809.8 686.7 1810.2 692.7C1810.7 698.7 1810.2 701.4 1810.8 704.9C1811.3 708.4 1812.2 710.7 1813.7 713.6C1815.2 716.5 1817.7 719.4 1819.5 722.3C1821.2 725.2 1822.7 728.1 1824.2 731.0C1825.6 733.9 1827.2 737.1 1828.2 739.7C1829.1 742.3 1829.5 744.7 1829.8 746.7C1830.0 748.7 1830.0 749.9 1829.9 751.6C1829.8 753.3 1829.8 755.0 1829.4 757.1C1829.0 759.2 1828.2 761.8 1827.7 764.1C1827.2 766.4 1826.4 768.8 1826.4 771.1C1826.4 773.4 1826.3 775.8 1827.7 778.1C1829.0 780.4 1831.8 782.7 1834.2 785.0C1836.7 787.3 1839.7 789.7 1842.1 792.0C1844.5 794.3 1846.9 796.7 1848.6 799.0C1850.3 801.3 1851.5 804.3 1852.2 806.0C1852.9 807.7 1852.8 807.9 1852.6 809.4C1852.4 810.9 1851.8 813.2 1850.8 814.7C1849.8 816.2 1848.2 817.0 1846.5 818.2C1844.7 819.4 1841.4 821.1 1840.3 821.7L1742.7 821.7C1741.6 821.1 1738.3 819.4 1736.5 818.2C1734.8 817.0 1733.2 816.2 1732.2 814.7C1731.2 813.2 1730.6 810.9 1730.4 809.4C1730.2 807.9 1730.1 807.7 1730.8 806.0C1731.5 804.3 1732.7 801.3 1734.4 799.0C1736.1 796.7 1738.5 794.3 1740.9 792.0C1743.3 789.7 1746.3 787.3 1748.8 785.0C1751.2 782.7 1754.0 780.4 1755.3 778.1C1756.7 775.8 1756.6 773.4 1756.6 771.1C1756.6 768.8 1755.8 766.4 1755.3 764.1C1754.8 761.8 1754.0 759.2 1753.6 757.1C1753.2 755.0 1753.2 753.3 1753.1 751.6C1753.0 749.9 1753.0 748.7 1753.2 746.7C1753.5 744.7 1753.9 742.3 1754.8 739.7C1755.8 737.1 1757.4 733.9 1758.8 731.0C1760.3 728.1 1761.8 725.2 1763.5 722.3C1765.3 719.4 1767.8 716.5 1769.3 713.6C1770.8 710.7 1771.7 708.4 1772.2 704.9C1772.8 701.4 1772.3 698.7 1772.8 692.7C1773.2 686.7 1774.1 678.6 1775.0 669.0C1775.8 659.4 1777.1 646.5 1778.0 635.3C1778.9 624.0 1779.6 612.8 1780.5 601.5C1781.5 590.2 1782.8 579.0 1783.9 567.7C1785.0 556.4 1786.5 542.3 1787.3 533.8C1788.1 525.2 1788.5 519.3 1788.8 516.4Z" fill="#800080" stroke="#000" stroke-width="5.8" stroke-linejoin="round"/>
<path d="M1772.0 692.47 H1813.1" stroke="#000" stroke-width="2.2" stroke-linecap="round" stroke-dasharray="4.7 4.5" clip-path="url(#vc4)"/>
<path d="M1752.2 751.62 H1830.8" stroke="#000" stroke-width="5" clip-path="url(#vc4)"/>
<path d="M1728.7 798.94 H1851.4" stroke="#000" stroke-width="2.2" stroke-linecap="round" stroke-dasharray="4.7 4.5" clip-path="url(#vc4)"/>
<path d="M1063.7 822.6 H1921.3" stroke="#000" stroke-width="5.4"/>
<text transform="translate(1036.6 38.7) scale(1 1.068)" font-family='"Liberation Sans", Arial, Helvetica, sans-serif' font-size="41.5" font-weight="bold">B</text>
<text transform="translate(1530.2 64.9) scale(1 1.06)" font-family='"Liberation Serif", "Times New Roman", Times, serif' font-size="34.5" font-weight="bold" text-anchor="middle" fill="#000" >Length of Stay for CS Patients by Level of Care</text>
<text transform="translate(1059.7 833.00) scale(1 1.14)" font-family='"Liberation Sans", Arial, Helvetica, sans-serif' font-size="27.5" font-weight="bold" text-anchor="end">0</text>
<text transform="translate(1059.7 714.70) scale(1 1.14)" font-family='"Liberation Sans", Arial, Helvetica, sans-serif' font-size="27.5" font-weight="bold" text-anchor="end">10</text>
<text transform="translate(1059.7 596.40) scale(1 1.14)" font-family='"Liberation Sans", Arial, Helvetica, sans-serif' font-size="27.5" font-weight="bold" text-anchor="end">20</text>
<text transform="translate(1059.7 478.10) scale(1 1.14)" font-family='"Liberation Sans", Arial, Helvetica, sans-serif' font-size="27.5" font-weight="bold" text-anchor="end">30</text>
<text transform="translate(1059.7 359.80) scale(1 1.14)" font-family='"Liberation Sans", Arial, Helvetica, sans-serif' font-size="27.5" font-weight="bold" text-anchor="end">40</text>
<text transform="translate(1059.7 241.50) scale(1 1.14)" font-family='"Liberation Sans", Arial, Helvetica, sans-serif' font-size="27.5" font-weight="bold" text-anchor="end">50</text>
<text transform="translate(1059.7 123.20) scale(1 1.14)" font-family='"Liberation Sans", Arial, Helvetica, sans-serif' font-size="27.5" font-weight="bold" text-anchor="end">60</text>
<text transform="translate(1211.3 871.4) scale(1 1.05)" font-family='"Liberation Sans", Arial, Helvetica, sans-serif' font-size="28.1" font-weight="bold" text-anchor="middle">Level 1</text>
<text transform="translate(1404.0 871.4) scale(1 1.05)" font-family='"Liberation Sans", Arial, Helvetica, sans-serif' font-size="28.1" font-weight="bold" text-anchor="middle">Level 1A</text>
<text transform="translate(1597.5 871.4) scale(1 1.05)" font-family='"Liberation Sans", Arial, Helvetica, sans-serif' font-size="28.1" font-weight="bold" text-anchor="middle">Level 2</text>
<text transform="translate(1791.0 871.4) scale(1 1.05)" font-family='"Liberation Sans", Arial, Helvetica, sans-serif' font-size="28.1" font-weight="bold" text-anchor="middle">Level 3</text>
<text transform="translate(1502.3 914.3) scale(1 1.06)" font-family='"Liberation Serif", "Times New Roman", Times, serif' font-size="29.5" font-weight="bold" text-anchor="middle" fill="#000" >Levels of Care</text>
<text transform="translate(1013.4 468.7) rotate(-90) scale(1 1.06)" font-family='"Liberation Serif", "Times New Roman", Times, serif' font-size="29.6" font-weight="bold" text-anchor="middle">Length of Stay (Days)</text>
<text transform="translate(1130.9 143.4) scale(1 1.045)" font-family='"Liberation Sans", Arial, Helvetica, sans-serif' font-size="32.5">P &lt;</text>
<text transform="translate(1187.9 143.4) scale(0.914 1.005)" font-family='"Liberation Serif", "Times New Roman", Times, serif' font-size="33.9">0.001</text>
<text transform="translate(1079.5 966.5) scale(0.938 1.07)" font-family='"Liberation Serif", "Times New Roman", Times, serif' font-size="26">*Outliers removed using ROUT Method (Q= 0.2%)</text>
<text transform="translate(1209.4 669.1) scale(1 1.07)" font-family='"Liberation Sans", Arial, Helvetica, sans-serif' font-size="29" text-anchor="middle" fill="#fff">13</text>
<text transform="translate(1408.3 706.2) scale(1 1.07)" font-family='"Liberation Sans", Arial, Helvetica, sans-serif' font-size="29" text-anchor="middle" fill="#fff">9</text>
<text transform="translate(1597.5 777.5) scale(1 1.07)" font-family='"Liberation Sans", Arial, Helvetica, sans-serif' font-size="29" text-anchor="middle" fill="#fff">4</text>
<text transform="translate(1793.9 742.9) scale(1 1.07)" font-family='"Liberation Sans", Arial, Helvetica, sans-serif' font-size="29" text-anchor="middle" fill="#fff">6</text>
</svg>
</body></html>
